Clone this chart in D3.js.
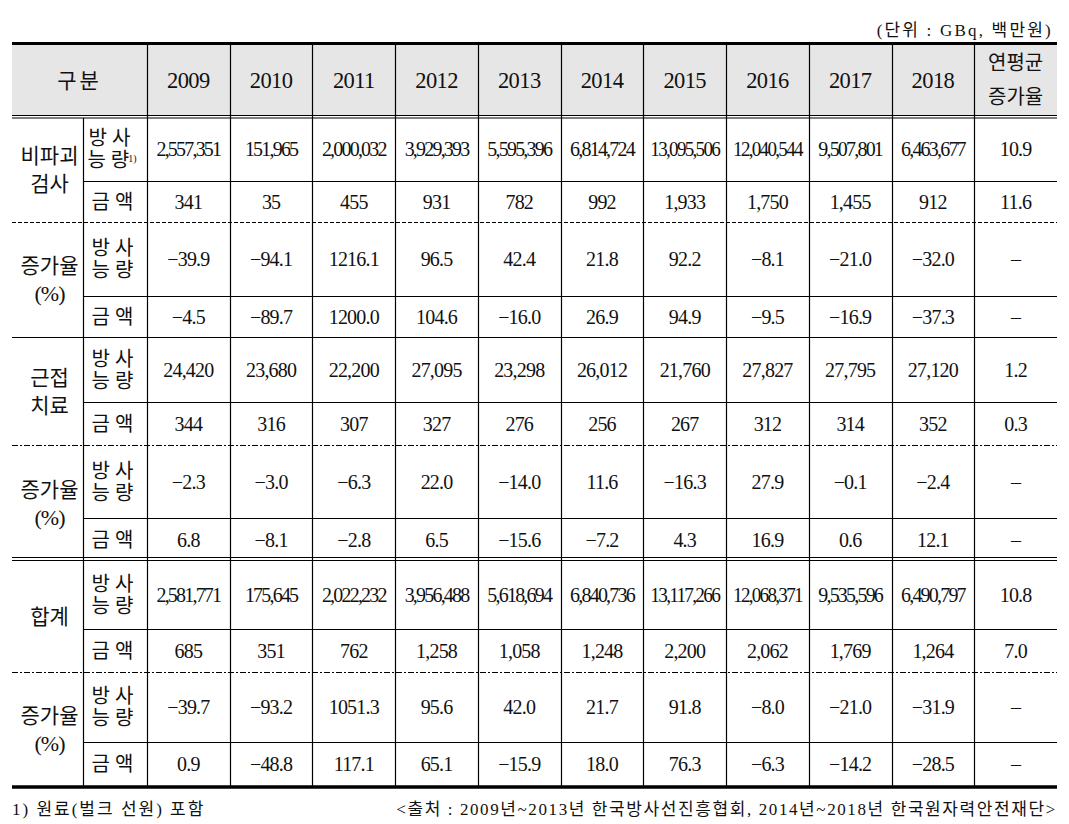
<!DOCTYPE html>
<html>
<head>
<meta charset="utf-8">
<script src="https://cdn.jsdelivr.net/npm/d3@7"></script>
<style>
  body { margin: 0; background: #fff; }
  svg text { fill: #111; }
  .num { font-family: "Liberation Serif", serif; font-size: 20px; }
  .kor { font-family: "Noto Sans CJK KR", sans-serif; font-size: 20px; }
  .note { font-family: "Liberation Serif", "Noto Sans CJK KR", serif; font-size: 17px; }
</style>
</head>
<body>
<div class="Table"></div>
<script>
// years and row labels
var years = [2009, 2010, 2011, 2012, 2013, 2014, 2015, 2016, 2017, 2018];
var groupLabels = [["비파괴", "검사"], ["증가율", "(%)"], ["근접", "치료"], ["증가율", "(%)"], ["합계"], ["증가율", "(%)"]];
var subLabels = [["방사", "능량"], ["금액"]];

// 비파괴검사
var ndtActivity = [2557351, 151965, 2000032, 3929393, 5595396, 6814724, 13095506, 12040544, 9507801, 6463677];
var ndtAmount = [341, 35, 455, 931, 782, 992, 1933, 1750, 1455, 912];
var ndtActivityRate = [-39.9, -94.1, 1216.1, 96.5, 42.4, 21.8, 92.2, -8.1, -21.0, -32.0];
var ndtAmountRate = [-4.5, -89.7, 1200.0, 104.6, -16.0, 26.9, 94.9, -9.5, -16.9, -37.3];

// 근접치료
var brachyActivity = [24420, 23680, 22200, 27095, 23298, 26012, 21760, 27827, 27795, 27120];
var brachyAmount = [344, 316, 307, 327, 276, 256, 267, 312, 314, 352];
var brachyActivityRate = [-2.3, -3.0, -6.3, 22.0, -14.0, 11.6, -16.3, 27.9, -0.1, -2.4];
var brachyAmountRate = [6.8, -8.1, -2.8, 6.5, -15.6, -7.2, 4.3, 16.9, 0.6, 12.1];

// 합계
var totalActivity = [2581771, 175645, 2022232, 3956488, 5618694, 6840736, 13117266, 12068371, 9535596, 6490797];
var totalAmount = [685, 351, 762, 1258, 1058, 1248, 2200, 2062, 1769, 1264];
var totalActivityRate = [-39.7, -93.2, 1051.3, 95.6, 42.0, 21.7, 91.8, -8.0, -21.0, -31.9];
var totalAmountRate = [0.9, -48.8, 117.1, 65.1, -15.9, 18.0, 76.3, -6.3, -14.2, -28.5];

// 연평균 증가율 (null = –)
var avgGrowth = [10.9, 11.6, null, null, 1.2, 0.3, null, null, 10.8, 7.0, null, null];

var fmtInt = d3.format(","), fmtRate = d3.format(".1f");
var rows = [
  {v: ndtActivity, f: fmtInt}, {v: ndtAmount, f: fmtInt},
  {v: ndtActivityRate, f: fmtRate}, {v: ndtAmountRate, f: fmtRate},
  {v: brachyActivity, f: fmtInt}, {v: brachyAmount, f: fmtInt},
  {v: brachyActivityRate, f: fmtRate}, {v: brachyAmountRate, f: fmtRate},
  {v: totalActivity, f: fmtInt}, {v: totalAmount, f: fmtInt},
  {v: totalActivityRate, f: fmtRate}, {v: totalAmountRate, f: fmtRate}
];

var W = 1069, H = 824;
var left = 12, right = 1057, subX = 83, colX = 147;
var headTop = 45, headBottom = 115;
var rowEdges = [117, 181, 222, 296, 337, 402, 445, 518, 561, 629, 672, 742, 786];

var svg = d3.select(".Table").append("svg")
  .attr("width", W).attr("height", H);

var cols = years.map(String).concat(["avg"]);
var x = d3.scaleBand().domain(cols).range([colX, right]);
var rowTop = d3.scaleOrdinal().domain(d3.range(12)).range(rowEdges.slice(0, 12));
var rowBot = d3.scaleOrdinal().domain(d3.range(12)).range(rowEdges.slice(1));
function cy(i) { return (rowTop(i) + rowBot(i)) / 2; }

// multi-line label as one text with tspans
function multi(cls, xPos, yMid, lines, lh, opts) {
  opts = opts || {};
  var t = svg.append("text").attr("class", cls).attr("text-anchor", "middle")
    .attr("x", xPos).attr("y", yMid - (lines.length - 1) / 2 * lh);
  if (opts.size) t.style("font-size", opts.size);
  if (opts.ls != null) t.attr("letter-spacing", opts.ls);
  lines.forEach(function(s, k) {
    var isNum = s.indexOf("%") >= 0;
    t.append("tspan").attr("x", xPos).attr("dy", k === 0 ? "0.36em" : lh)
      .style("font-family", isNum ? "Liberation Serif, serif" : null)
      .style("font-size", isNum ? "22px" : null)
      .attr("letter-spacing", isNum ? -1 : null)
      .text(s);
  });
  return t;
}

// header background
svg.append("rect").attr("x", left).attr("y", headTop)
  .attr("width", right - left).attr("height", headBottom - headTop)
  .attr("fill", "#e6e6e6");

// header text
svg.append("text").attr("class", "kor").style("font-size", "21px")
  .attr("x", (left + colX) / 2).attr("y", 80).attr("dy", "0.36em")
  .attr("text-anchor", "middle").attr("letter-spacing", 3).text("구분");

svg.selectAll(".yr").data(years).enter().append("text")
  .attr("class", "num").style("font-size", "22.5px")
  .attr("x", function(d) { return x(String(d)) + x.bandwidth() / 2; })
  .attr("y", 80).attr("dy", "0.35em").attr("text-anchor", "middle")
  .attr("letter-spacing", -0.6)
  .text(function(d) { return d; });

multi("kor", x("avg") + x.bandwidth() / 2, 80, ["연평균", "증가율"], 34);

// group labels (first column)
d3.range(6).forEach(function(g) {
  var c = (rowTop(g * 2) + rowBot(g * 2 + 1)) / 2;
  multi("kor", (left + subX) / 2 + 2, c, groupLabels[g], 28, {size: "21px"});
});

// sub labels (second column)
d3.range(12).forEach(function(i) {
  var t = multi("kor", (subX + colX) / 2 + (i === 0 ? -3 : 0), cy(i), subLabels[i % 2], 22, {ls: 5});
  if (i === 0) {
    // footnote marker 1)
    t.append("tspan").attr("dx", -6).attr("dy", -5)
      .style("font-family", "Liberation Serif, serif").style("font-size", "10px")
      .attr("letter-spacing", 0).text("1)");
  }
});

// cell values
rows.forEach(function(r, i) {
  var cells = r.v.map(function(d, j) { return {col: String(years[j]), t: r.f(d)}; });
  cells.push({col: "avg", t: avgGrowth[i] == null ? "–" : fmtRate(avgGrowth[i])});
  svg.selectAll(".c" + i).data(cells).enter().append("text")
    .attr("class", "num")
    .attr("x", function(d) { return x(d.col) + x.bandwidth() / 2; })
    .attr("y", cy(i)).attr("dy", "0.35em").attr("text-anchor", "middle")
    .attr("letter-spacing", function(d) { return d.t.indexOf(",") >= 0 && d.t.length > 6 ? -1.8 : -0.8; })
    .text(function(d) { return d.t; })
    .each(function() {
      var maxW = x.bandwidth() - 14;
      if (this.getComputedTextLength() > maxW) {
        d3.select(this).attr("textLength", maxW).attr("lengthAdjust", "spacingAndGlyphs");
      }
    });
});

// lines
function hline(y, x1, sw, dash) {
  svg.append("line").attr("x1", x1).attr("x2", right).attr("y1", y).attr("y2", y)
    .attr("stroke", "#000").attr("stroke-width", sw || 1)
    .attr("stroke-dasharray", dash || null);
}
hline(43.5, left, 3);
hline(115.5, left, 1.2);
hline(118, left, 1.2);
[1, 3, 5, 7, 9, 11].forEach(function(i) { hline(rowTop(i) + 0.5, subX, 1.2); });
hline(222.5, left, 1, "4,2");
hline(337.5, left, 1.2);
hline(445.5, left, 1, "6,2,2,2");
hline(557.5, left, 1.2);
hline(560.5, left, 1.2);
hline(672.5, left, 1, "6,2,2,2");
hline(787, left, 3.5);

// vertical lines
svg.append("line").attr("x1", subX + 0.5).attr("x2", subX + 0.5)
  .attr("y1", 118).attr("y2", 786).attr("stroke", "#000").attr("stroke-width", 1.2);
svg.selectAll(".vl").data(cols).enter().append("line")
  .attr("x1", function(d) { return Math.round(x(d)) + 0.5; })
  .attr("x2", function(d) { return Math.round(x(d)) + 0.5; })
  .attr("y1", headTop).attr("y2", 786)
  .attr("stroke", "#000").attr("stroke-width", 1.2);

// notes
svg.append("text").attr("class", "note")
  .attr("x", 1053).attr("y", 36).attr("text-anchor", "end")
  .attr("letter-spacing", 2.2)
  .text("(단위 : GBq,  백만원)");
svg.append("text").attr("class", "note")
  .attr("x", 12).attr("y", 815).attr("letter-spacing", 2)
  .text("1)  원료(벌크  선원)  포함");
svg.append("text").attr("class", "note")
  .attr("x", 1057).attr("y", 815).attr("text-anchor", "end")
  .attr("letter-spacing", 1.6)
  .text("<출처 : 2009년~2013년  한국방사선진흥협회,  2014년~2018년  한국원자력안전재단>");
</script>
</body>
</html>
